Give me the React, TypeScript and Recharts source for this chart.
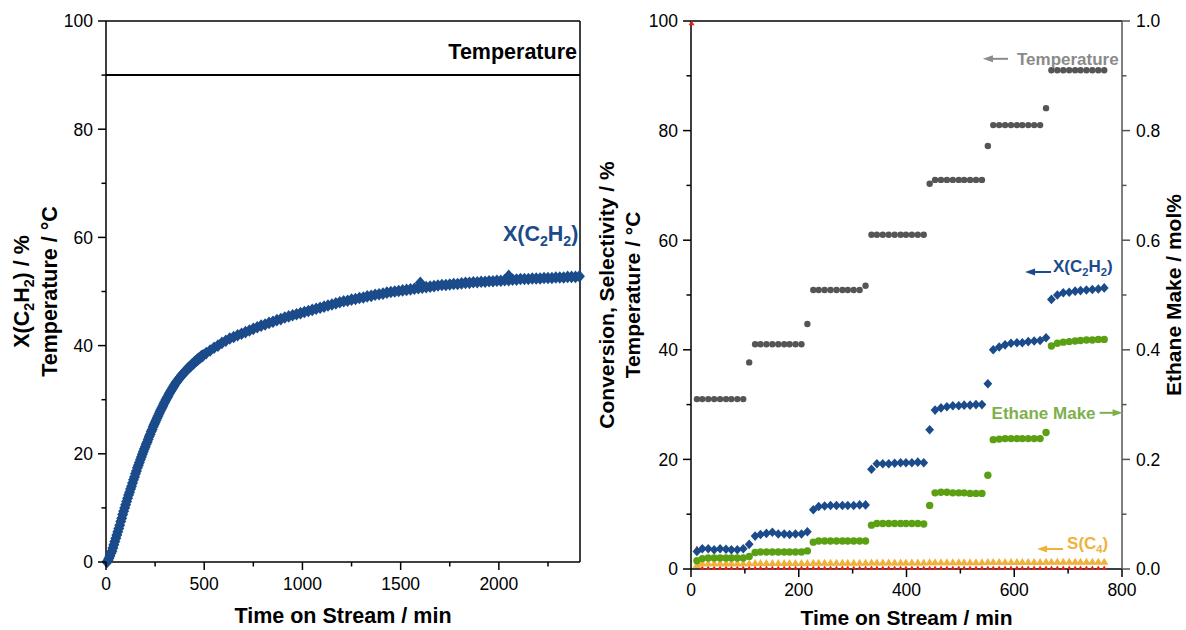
import React from 'react';
import { ScatterChart, Scatter, XAxis, YAxis, ReferenceLine, ReferenceDot } from 'recharts';

const FONT = "'Liberation Sans', Arial, Helvetica, sans-serif";
const BLUE = '#1b4b8a';
const GRAY = '#555555';
const GREEN = '#5ba013';
const GREEN_TEXT = '#7db04b';
const ORANGE = '#efb23a';
const RED = '#d9241c';
const TEMP_TEXT = '#8a8a8a';

// ---------- Left chart data ----------
const leftTime = [
  5, 10, 15, 20, 25, 30, 35, 40, 45, 50,
  55, 60, 65, 70, 75, 80, 85, 90, 95, 100,
  105, 110, 115, 120, 125, 130, 135, 140, 145, 150,
  155, 160, 165, 170, 175, 180, 185, 190, 195, 200,
  205, 210, 215, 220, 225, 230, 235, 240, 245, 250,
  255, 260, 265, 270, 275, 280, 285, 290, 295, 300,
  305, 310, 315, 320, 325, 330, 335, 340, 345, 350,
  355, 360, 365, 370, 375, 380, 385, 390, 395, 400,
  405, 410, 415, 420, 425, 430, 435, 440, 445, 450,
  455, 460, 465, 470, 475, 480, 485, 490, 495,
  510, 530, 550, 570, 590,
  610, 630, 650, 670, 690, 710, 730, 750, 770, 790,
  810, 830, 850, 870, 890, 910, 930, 950, 970, 990,
  1010, 1030, 1050, 1070, 1090, 1110, 1130, 1150, 1170, 1190,
  1210, 1230, 1250, 1270, 1290, 1310, 1330, 1350, 1370, 1390,
  1410, 1430, 1450, 1470, 1490, 1510, 1530, 1550, 1570, 1590,
  1610, 1630, 1650, 1670, 1690, 1710, 1730, 1750, 1770, 1790,
  1810, 1830, 1850, 1870, 1890, 1910, 1930, 1950, 1970, 1990,
  2010, 2030, 2050, 2070, 2090, 2110, 2130, 2150, 2170, 2190,
  2210, 2230, 2250, 2270, 2290, 2310, 2330, 2350, 2370, 2390,
  2410, 1600, 2050,
];
const leftConversion = [
  0.0, 0.3, 0.7, 1.1, 1.6, 2.0, 2.6, 3.2, 3.8, 4.4,
  5.0, 5.6, 6.2, 6.8, 7.5, 8.1, 8.8, 9.4, 10.0, 10.6,
  11.2, 11.8, 12.4, 12.9, 13.5, 14.0, 14.6, 15.2, 15.7, 16.3,
  16.8, 17.4, 17.9, 18.4, 18.9, 19.4, 19.9, 20.4, 20.9, 21.3,
  21.8, 22.2, 22.7, 23.2, 23.6, 24.1, 24.5, 25.0, 25.4, 25.8,
  26.2, 26.6, 27.0, 27.4, 27.8, 28.2, 28.5, 28.9, 29.3, 29.6,
  30.0, 30.3, 30.6, 31.0, 31.3, 31.6, 31.9, 32.2, 32.5, 32.8,
  33.1, 33.3, 33.6, 33.8, 34.0, 34.3, 34.5, 34.7, 34.9, 35.1,
  35.3, 35.5, 35.7, 35.9, 36.0, 36.2, 36.4, 36.6, 36.7, 36.9,
  37.1, 37.2, 37.4, 37.5, 37.7, 37.8, 38.0, 38.1, 38.2,
  38.6, 39.1, 39.6, 40.0, 40.5,
  40.9, 41.3, 41.6, 41.9, 42.2, 42.5, 42.8, 43.1, 43.4, 43.7,
  43.9, 44.2, 44.4, 44.7, 44.9, 45.2, 45.4, 45.6, 45.8, 46.0,
  46.2, 46.4, 46.6, 46.8, 47.0, 47.2, 47.4, 47.6, 47.8, 48.0,
  48.2, 48.3, 48.5, 48.6, 48.8, 48.9, 49.1, 49.2, 49.4, 49.5,
  49.6, 49.8, 49.9, 50.0, 50.1, 50.2, 50.3, 50.4, 50.5, 50.6,
  50.7, 50.8, 50.9, 51.0, 51.1, 51.2, 51.2, 51.3, 51.4, 51.4,
  51.5, 51.6, 51.6, 51.7, 51.7, 51.8, 51.8, 51.9, 51.9, 52.0,
  52.0, 52.1, 52.1, 52.2, 52.2, 52.3, 52.3, 52.3, 52.4, 52.4,
  52.4, 52.5, 52.5, 52.5, 52.6, 52.6, 52.6, 52.7, 52.7, 52.7,
  52.8, 51.6, 52.9,
];
const leftTemperature = 90;
const leftXMax = 2413;
const leftXTicks = [0, 250, 500, 750, 1000, 1250, 1500, 1750, 2000, 2250];
const leftXMajor = [0, 500, 1000, 1500, 2000];
const leftYTicks = [0, 10, 20, 30, 40, 50, 60, 70, 80, 90, 100];
const leftYMajor = [0, 20, 40, 60, 80, 100];

// ---------- Right chart data ----------
const rightTime = [
  11, 21, 32, 43, 54, 65, 75, 86, 97, 108,
  119, 129, 140, 151, 162, 173, 183, 194, 205, 216,
  227, 237, 248, 259, 270, 281, 291, 302, 313, 324,
  335, 345, 356, 367, 378, 389, 399, 410, 421, 432,
  443, 453, 464, 475, 486, 497, 507, 518, 529, 540,
  551, 561, 572, 583, 594, 605, 615, 626, 637, 648,
  659, 669, 680, 691, 702, 713, 723, 734, 745, 756,
  767,
];
const rightTemperature = [
  31, 31, 31, 31, 31, 31, 31, 31, 31, 37.7,
  41, 41, 41, 41, 41, 41, 41, 41, 41, 44.7,
  50.9, 50.9, 50.9, 50.9, 50.9, 50.9, 50.9, 50.9, 50.9, 51.7,
  61, 61, 61, 61, 61, 61, 61, 61, 61, 61,
  70.3, 71, 71, 71, 71, 71, 71, 71, 71, 71,
  77.2, 81, 81, 81, 81, 81, 81, 81, 81, 81,
  84.1, 91, 91, 91, 91, 91, 91, 91, 91, 91,
  91,
];
const rightConversion = [
  3.2, 3.7, 3.7, 3.5, 3.7, 3.6, 3.5, 3.5, 3.7, 4.5,
  6.0, 6.3, 6.5, 6.7, 6.4, 6.4, 6.3, 6.4, 6.4, 6.8,
  10.8, 11.4, 11.5, 11.6, 11.6, 11.6, 11.6, 11.6, 11.7, 11.7,
  18.2, 19.2, 19.2, 19.2, 19.3, 19.4, 19.4, 19.4, 19.5, 19.4,
  25.4, 29.0, 29.4, 29.6, 29.8, 29.8, 29.9, 29.9, 30.0, 30.0,
  33.8, 40.0, 40.5, 40.9, 41.2, 41.3, 41.3, 41.5, 41.6, 41.7,
  42.2, 49.2, 50.0, 50.4, 50.5, 50.7, 50.8, 50.9, 51.0, 51.1,
  51.3,
];
const rightEthaneMake = [
  0.015, 0.019, 0.020, 0.020, 0.020, 0.020, 0.020, 0.020, 0.020, 0.023,
  0.030, 0.031, 0.031, 0.031, 0.031, 0.031, 0.031, 0.031, 0.031, 0.033,
  0.049, 0.051, 0.051, 0.051, 0.051, 0.051, 0.051, 0.051, 0.051, 0.051,
  0.080, 0.083, 0.083, 0.083, 0.083, 0.083, 0.083, 0.083, 0.083, 0.082,
  0.116, 0.139, 0.140, 0.140, 0.139, 0.139, 0.139, 0.138, 0.138, 0.138,
  0.171, 0.236, 0.237, 0.238, 0.238, 0.238, 0.238, 0.238, 0.238, 0.238,
  0.249, 0.407, 0.412, 0.414, 0.415, 0.416, 0.417, 0.418, 0.418, 0.419,
  0.419,
];
const rightSelC4 = [
  0.7, 1.0, 1.0, 1.0, 1.0, 1.0, 1.0, 1.0, 1.0, 1.0,
  1.05, 1.05, 1.05, 1.05, 1.05, 1.05, 1.05, 1.05, 1.05, 1.05,
  1.1, 1.1, 1.1, 1.1, 1.1, 1.1, 1.1, 1.1, 1.1, 1.1,
  1.15, 1.15, 1.15, 1.15, 1.15, 1.15, 1.15, 1.15, 1.15, 1.15,
  1.2, 1.2, 1.2, 1.2, 1.2, 1.2, 1.2, 1.2, 1.2, 1.2,
  1.25, 1.25, 1.25, 1.25, 1.25, 1.25, 1.25, 1.25, 1.25, 1.25,
  1.3, 1.3, 1.3, 1.3, 1.3, 1.3, 1.3, 1.3, 1.3, 1.3,
  1.3,
];
const rightRedSeries = [
  3.8, 0.15, 0.15, 0.15, 0.15, 0.15, 0.15, 0.15, 0.15, 0.15,
  0.15, 0.15, 0.15, 0.15, 0.15, 0.15, 0.15, 0.15, 0.15, 0.15,
  0.15, 0.15, 0.15, 0.15, 0.15, 0.15, 0.15, 0.15, 0.15, 0.15,
  0.15, 0.15, 0.15, 0.15, 0.15, 0.15, 0.15, 0.15, 0.15, 0.15,
  0.15, 0.15, 0.15, 0.15, 0.15, 0.15, 0.15, 0.15, 0.15, 0.15,
  0.15, 0.15, 0.15, 0.15, 0.15, 0.15, 0.15, 0.15, 0.15, 0.15,
  0.15, 0.15, 0.15, 0.15, 0.15, 0.15, 0.15, 0.15, 0.15, 0.15,
  0.15,
];
const redTopTime = [1];
const redTopValue = [99.6];
const rightXTicks = [0, 100, 200, 300, 400, 500, 600, 700, 800];
const rightXMajor = [0, 200, 400, 600, 800];
const rightYTicks = [0, 10, 20, 30, 40, 50, 60, 70, 80, 90, 100];
const rightYMajor = [0, 20, 40, 60, 80, 100];
const rightY2Ticks = [0, 0.1, 0.2, 0.3, 0.4, 0.5, 0.6, 0.7, 0.8, 0.9, 1.0];
const rightY2Major = [0, 0.2, 0.4, 0.6, 0.8, 1.0];

const zip = (ts: number[], vs: number[]) => ts.map((t, i) => ({ t, v: vs[i] }));

const leftData = zip(leftTime, leftConversion);
const rTemp = zip(rightTime, rightTemperature);
const rConv = zip(rightTime, rightConversion);
const rEth = zip(rightTime, rightEthaneMake);
const rC4 = zip(rightTime, rightSelC4);
const rRed = zip(rightTime, rightRedSeries);
const rRedTop = zip(redTopTime, redTopValue);

// ---------- shapes ----------
const diamond = (hw: number, hh: number, color: string) => (p: any) => {
  const { cx, cy } = p;
  if (cx == null || cy == null) return <g />;
  return <polygon points={`${cx},${cy - hh} ${cx + hw},${cy} ${cx},${cy + hh} ${cx - hw},${cy}`} fill={color} />;
};
const dot = (r: number, color: string) => (p: any) => {
  const { cx, cy } = p;
  if (cx == null || cy == null) return <g />;
  return <circle cx={cx} cy={cy} r={r} fill={color} />;
};
const tri = (hw: number, h: number, color: string) => (p: any) => {
  const { cx, cy } = p;
  if (cx == null || cy == null) return <g />;
  return <polygon points={`${cx},${cy - h * 0.6} ${cx + hw},${cy + h * 0.4} ${cx - hw},${cy + h * 0.4}`} fill={color} />;
};

// ---------- ticks ----------
type Orient = 'bottom' | 'left' | 'right';
const makeTick = (orient: Orient, majors: number[], fmt: (v: number) => string, color: string, labelGap: number) => (props: any) => {
  const { x, y, payload } = props;
  const v = payload.value;
  const major = majors.some((m) => Math.abs(m - v) < 1e-9);
  const len = major ? 8 : 4.5;
  const tp = { fontFamily: FONT, fontSize: 17.5, fill: '#000' } as any;
  if (orient === 'bottom') {
    return (
      <g>
        <line x1={x} x2={x} y1={y} y2={y + len} stroke={color} strokeWidth={1.5} />
        {major && <text x={x} y={y + labelGap} textAnchor="middle" {...tp}>{fmt(v)}</text>}
      </g>
    );
  }
  if (orient === 'left') {
    return (
      <g>
        <line x1={x - len} x2={x} y1={y} y2={y} stroke={color} strokeWidth={1.5} />
        {major && <text x={x - labelGap} y={y} dy="0.36em" textAnchor="end" {...tp}>{fmt(v)}</text>}
      </g>
    );
  }
  return (
    <g>
      <line x1={x} x2={x + len} y1={y} y2={y} stroke={color} strokeWidth={1.5} />
      {major && <text x={x + labelGap} y={y} dy="0.36em" textAnchor="start" {...tp}>{fmt(v)}</text>}
    </g>
  );
};

// chemical formula text
const chem = (parts: Array<[string, boolean]>, fs: number) => {
  const out: React.ReactNode[] = [];
  let prevSub = false;
  const shift = fs * 0.24;
  parts.forEach(([s, sub], i) => {
    if (sub) {
      out.push(<tspan key={i} dy={shift} fontSize={fs * 0.66}>{s}</tspan>);
    } else {
      out.push(<tspan key={i} dy={prevSub ? -shift : 0}>{s}</tspan>);
    }
    prevSub = sub;
  });
  return out;
};
const C2H2: Array<[string, boolean]> = [['X(C', false], ['2', true], ['H', false], ['2', true], [')', false]];

const vbCenter = (p: any) => {
  const vb = p.viewBox || {};
  return { cx: (vb.x || 0) + (vb.width || 0) / 2, cy: (vb.y || 0) + (vb.height || 0) / 2, vb };
};

const arrowH = (x1: number, x2: number, y: number, color: string) => {
  const dir = x2 > x1 ? 1 : -1;
  return (
    <g>
      <line x1={x1 + dir * 7} x2={x2} y1={y} y2={y} stroke={color} strokeWidth={2} />
      <polygon points={`${x1},${y} ${x1 + dir * 10},${y - 3.5} ${x1 + dir * 10},${y + 3.5}`} fill={color} />
    </g>
  );
};

const TITLE = { fontFamily: FONT, fontWeight: 700 } as any;

export default function App() {
  return (
    <div style={{ position: 'absolute', left: 0, top: 0, width: 1186, height: 630, background: '#fff' }}>
      {/* Left chart */}
      <div style={{ position: 'absolute', left: 0, top: 0 }}>
        <ScatterChart width={590} height={630} margin={{ top: 21, right: 10, bottom: 0, left: 0 }}>
          <XAxis
            type="number"
            dataKey="t"
            domain={[0, leftXMax]}
            ticks={leftXTicks}
            interval={0}
            height={68}
            tickSize={0}
            tickMargin={0}
            tickLine={false}
            axisLine={{ stroke: '#000', strokeWidth: 1.5 }}
            tick={makeTick('bottom', leftXMajor, (v) => String(v), '#000', 28)}
            label={{
              content: (p: any) => {
                const { vb } = vbCenter(p);
                return (
                  <text x={vb.x + vb.width / 2} y={vb.y + 61} textAnchor="middle" fontSize={21.5} fill="#000" {...TITLE}>
                    Time on Stream / min
                  </text>
                );
              },
            }}
          />
          <YAxis
            type="number"
            dataKey="v"
            domain={[0, 100]}
            ticks={leftYTicks}
            interval={0}
            width={106}
            tickSize={0}
            tickMargin={0}
            tickLine={false}
            axisLine={{ stroke: '#000', strokeWidth: 1.5 }}
            tick={makeTick('left', leftYMajor, (v) => String(v), '#000', 13)}
            label={{
              content: (p: any) => {
                const { cy } = vbCenter(p);
                return (
                  <g fill="#000" fontSize={21.5} {...TITLE}>
                    <text x={29} y={cy} textAnchor="middle" transform={`rotate(-90 29 ${cy})`}>
                      {chem([['X(C', false], ['2', true], ['H', false], ['2', true], [') / %', false]], 21.5)}
                    </text>
                    <text x={57} y={cy} textAnchor="middle" transform={`rotate(-90 57 ${cy})`}>
                      Temperature / °C
                    </text>
                  </g>
                );
              },
            }}
          />
          <ReferenceLine y={100} stroke="#000" strokeWidth={1.5} />
          <ReferenceLine x={leftXMax} stroke="#000" strokeWidth={1.5} />
          <ReferenceLine
            y={leftTemperature}
            stroke="#000"
            strokeWidth={2}
            label={{
              content: (p: any) => {
                const vb = p.viewBox || {};
                return (
                  <text x={vb.x + vb.width - 3} y={vb.y - 16} textAnchor="end" fontSize={21.5} fill="#000" {...TITLE}>
                    Temperature
                  </text>
                );
              },
            }}
          />
          <Scatter data={leftData} isAnimationActive={false} shape={diamond(5.5, 6.3, BLUE)} />
          <ReferenceDot
            x={2405}
            y={59.3}
            r={1}
            fill="none"
            stroke="none"
            label={{
              content: (p: any) => {
                const { cx, cy } = vbCenter(p);
                return (
                  <text x={cx} y={cy} dy="0.36em" textAnchor="end" fontSize={21.5} fill={BLUE} {...TITLE}>
                    {chem(C2H2, 21.5)}
                  </text>
                );
              },
            }}
          />
        </ScatterChart>
      </div>

      {/* Right chart */}
      <div style={{ position: 'absolute', left: 590, top: 0 }}>
        <ScatterChart width={596} height={630} margin={{ top: 21, right: 0, bottom: 0, left: 0 }}>
          <XAxis
            type="number"
            dataKey="t"
            domain={[0, 800]}
            ticks={rightXTicks}
            interval={0}
            height={61}
            tickSize={0}
            tickMargin={0}
            tickLine={false}
            axisLine={{ stroke: '#000', strokeWidth: 1.5 }}
            tick={makeTick('bottom', rightXMajor, (v) => String(v), '#000', 27)}
            label={{
              content: (p: any) => {
                const { vb } = vbCenter(p);
                return (
                  <text x={vb.x + vb.width / 2} y={vb.y + 56} textAnchor="middle" fontSize={21} fill="#000" {...TITLE}>
                    Time on Stream / min
                  </text>
                );
              },
            }}
          />
          <YAxis
            yAxisId="left"
            type="number"
            dataKey="v"
            domain={[0, 100]}
            ticks={rightYTicks}
            interval={0}
            width={101}
            tickSize={0}
            tickMargin={0}
            tickLine={false}
            axisLine={{ stroke: '#000', strokeWidth: 1.5 }}
            tick={makeTick('left', rightYMajor, (v) => String(v), '#000', 13)}
            label={{
              content: (p: any) => {
                const { cy } = vbCenter(p);
                return (
                  <g fill="#000" fontSize={21} {...TITLE}>
                    <text x={24} y={cy} textAnchor="middle" transform={`rotate(-90 24 ${cy})`}>
                      Conversion, Selectivity / %
                    </text>
                    <text x={50} y={cy} textAnchor="middle" transform={`rotate(-90 50 ${cy})`}>
                      Temperature / °C
                    </text>
                  </g>
                );
              },
            }}
          />
          <YAxis
            yAxisId="right"
            orientation="right"
            type="number"
            dataKey="v"
            domain={[0, 1]}
            ticks={rightY2Ticks}
            interval={0}
            width={64}
            tickSize={0}
            tickMargin={0}
            tickLine={false}
            axisLine={{ stroke: GRAY, strokeWidth: 1.5 }}
            tick={makeTick('right', rightY2Major, (v) => v.toFixed(1), GRAY, 14)}
            label={{
              content: (p: any) => {
                const { cy } = vbCenter(p);
                return (
                  <text x={591} y={cy} textAnchor="middle" transform={`rotate(-90 591 ${cy})`} fontSize={21} fill="#000" {...TITLE}>
                    Ethane Make / mol%
                  </text>
                );
              },
            }}
          />
          <ReferenceLine yAxisId="left" y={100} stroke="#000" strokeWidth={1.5} />
          <Scatter yAxisId="left" data={rRedTop} isAnimationActive={false} shape={tri(3, 5, RED)} />
          <Scatter yAxisId="left" data={rRed} isAnimationActive={false} shape={tri(2.6, 4.5, RED)} />
          <Scatter yAxisId="left" data={rC4} isAnimationActive={false} shape={tri(4.2, 7, ORANGE)} />
          <Scatter yAxisId="right" data={rEth} isAnimationActive={false} shape={dot(3.7, GREEN)} />
          <Scatter yAxisId="left" data={rConv} isAnimationActive={false} shape={diamond(4.4, 4.8, BLUE)} />
          <Scatter yAxisId="left" data={rTemp} isAnimationActive={false} shape={dot(3.2, GRAY)} />

          <ReferenceDot
            yAxisId="left"
            x={605}
            y={93.1}
            r={1}
            fill="none"
            stroke="none"
            label={{
              content: (p: any) => {
                const { cx, cy } = vbCenter(p);
                return (
                  <g>
                    {arrowH(cx - 34, cx - 9, cy, TEMP_TEXT)}
                    <text x={cx} y={cy} dy="0.36em" fontSize={17} fill={TEMP_TEXT} {...TITLE}>Temperature</text>
                  </g>
                );
              },
            }}
          />
          <ReferenceDot
            yAxisId="left"
            x={672}
            y={54.2}
            r={1}
            fill="none"
            stroke="none"
            label={{
              content: (p: any) => {
                const { cx, cy } = vbCenter(p);
                return (
                  <g>
                    {arrowH(cx - 28, cx - 2, cy, BLUE)}
                    <text x={cx} y={cy} dy="0.36em" fontSize={17} fill={BLUE} {...TITLE}>{chem(C2H2, 17)}</text>
                  </g>
                );
              },
            }}
          />
          <ReferenceDot
            yAxisId="left"
            x={558}
            y={28.5}
            r={1}
            fill="none"
            stroke="none"
            label={{
              content: (p: any) => {
                const { cx, cy } = vbCenter(p);
                return (
                  <g>
                    <text x={cx} y={cy} dy="0.36em" fontSize={17} fill={GREEN_TEXT} {...TITLE}>Ethane Make</text>
                    {arrowH(cx + 131, cx + 108, cy, GREEN_TEXT)}
                  </g>
                );
              },
            }}
          />
          <ReferenceDot
            yAxisId="left"
            x={698}
            y={3.65}
            r={1}
            fill="none"
            stroke="none"
            label={{
              content: (p: any) => {
                const { cx, cy } = vbCenter(p);
                return (
                  <g>
                    {arrowH(cx - 30, cx - 4, cy, ORANGE)}
                    <text x={cx} y={cy} dy="0.36em" fontSize={17} fill={ORANGE} {...TITLE}>
                      {chem([['S(C', false], ['4', true], [')', false]], 17)}
                    </text>
                  </g>
                );
              },
            }}
          />
        </ScatterChart>
      </div>
    </div>
  );
}
